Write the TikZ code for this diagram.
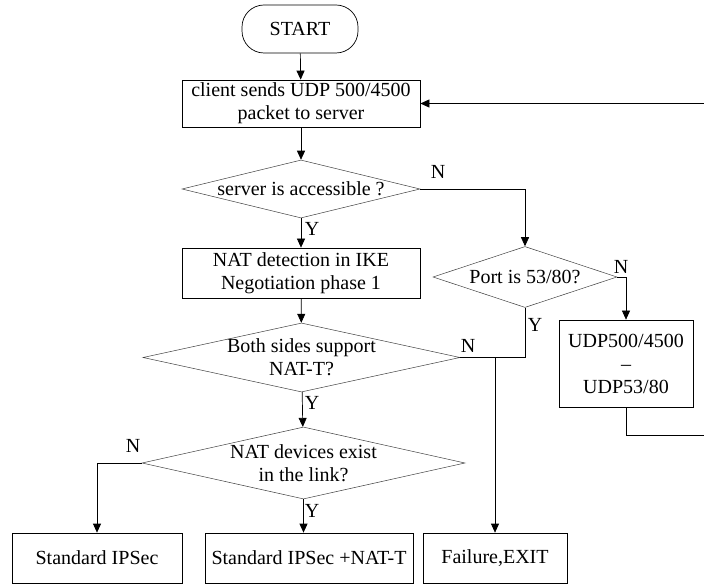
\documentclass[tikz,border=0pt]{standalone}
\usepackage{fontspec}
\setmainfont{Liberation Serif}
\usetikzlibrary{shapes.geometric}
\usetikzlibrary{arrows.meta}

\begin{document}
\begin{tikzpicture}[x=1pt,y=-1pt,
        font=\fontsize{20}{23}\selectfont,
        box/.style={draw, line width=0.7pt, inner sep=0pt, align=center},
        decision/.style={draw=black!75, line width=0.5pt, shape=diamond, inner sep=0pt},
        flow/.style={-{Triangle[length=9pt,width=8pt]}, line width=0.7pt}]
        \useasboundingbox (0,0) rectangle (704,585);

        \node[box, rounded corners=22pt, minimum width=116pt, minimum height=48pt] (start) at (300,29) {START};
        \node[box, minimum width=238pt, minimum height=47pt] (client) at (301,103.5) {client sends UDP 500/4500\\packet to server};
        \node[decision, minimum width=238pt, minimum height=58pt, label=center:{server is accessible ?}] (access) at (301,189) {};
        \node[box, minimum width=238pt, minimum height=50pt] (detect) at (301,273) {NAT detection in IKE\\Negotiation phase 1};
        \node[decision, minimum width=317pt, minimum height=69pt, label={[align=center]center:Both sides support\\NAT-T?}] (support) at (301.5,357.5) {};
        \node[decision, minimum width=323pt, minimum height=72pt, label={[align=center]center:NAT devices exist\\in the link?}] (exist) at (303.5,463) {};
        \node[decision, minimum width=184pt, minimum height=61pt, label=center:{Port is 53/80?}] (port) at (525,277) {};
        \node[box, minimum width=134pt, minimum height=87pt] (udp) at (626,363.5) {UDP500/4500\\--\\UDP53/80};
        \node[box, minimum width=170pt, minimum height=50pt] (std) at (97,558) {Standard IPSec};
        \node[box, minimum width=208pt, minimum height=50pt] (natt) at (309,558) {Standard IPSec +NAT-T};
        \node[box, minimum width=144pt, minimum height=50pt] (fail) at (495,558) {Failure,EXIT};

        \node (accN) at (438,172) {N};
        \node (accY) at (312,229) {Y};
        \node (portN) at (621,267) {N};
        \node (portY) at (535,325) {Y};
        \node (supN) at (468,346) {N};
        \node (supY) at (312,403) {Y};
        \node (exN) at (133,446) {N};
        \node (exY) at (312,511) {Y};

        \coordinate (join) at (fail.north |- support.east);
        \coordinate (back) at (706,300);

        \draw[flow] (start) -- (client);
        \draw[flow] (client) -- (access);
        \draw[flow] (access) -- (detect);
        \draw[flow] (access.east) -| (port.north);
        \draw[flow] (detect) -- (support);
        \draw[flow] (support) -- (exist);
        \draw[line width=0.7pt] (support.east) -- (join);
        \draw[line width=0.7pt] (port.south) |- (join);
        \draw[flow] (join) -- (fail.north);
        \draw[flow] (port.east) -| (udp.north);
        \draw[flow] (exist.west) -| (std.north);
        \draw[flow] (exist.south) -- (exist.south |- natt.north);
        \draw[flow] (udp.south) -- ++(0,28) -| (back) |- (client.east);
\end{tikzpicture}
\end{document}
